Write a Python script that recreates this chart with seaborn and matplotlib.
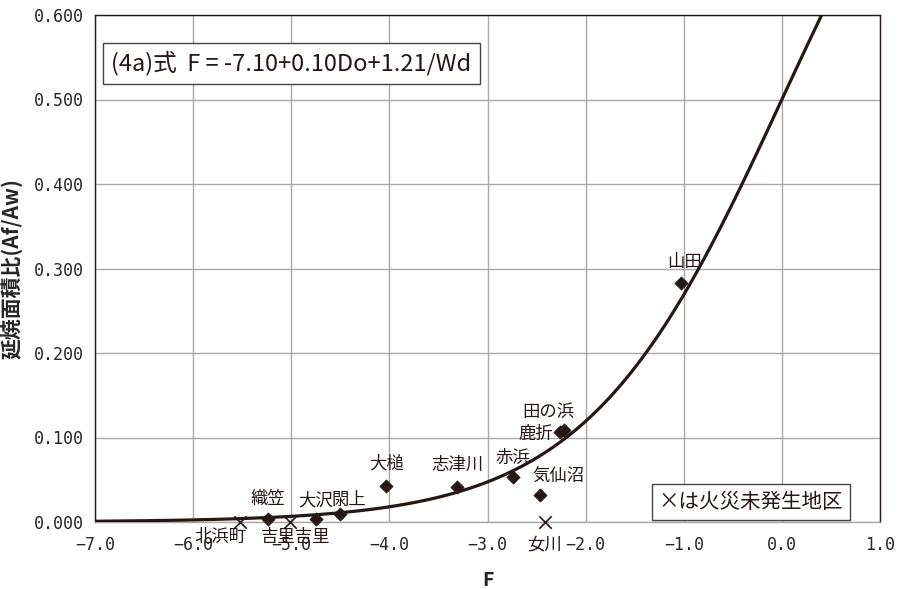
import numpy as np
import pandas as pd
import matplotlib
matplotlib.use("Agg")
import matplotlib.pyplot as plt
import seaborn as sns

# データ: 火災発生地区 (◆)
fire_names = ['山田', '田の浜', '鹿折', '赤浜', '気仙沼', '志津川', '大槌', '閖上', '大沢', '織笠']
fire_F = [-1.03, -2.22, -2.26, -2.74, -2.46, -3.31, -4.03, -4.50, -4.75, -5.24]
fire_ratio = [0.283, 0.109, 0.107, 0.053, 0.032, 0.041, 0.043, 0.0095, 0.003, 0.004]

# 火災未発生地区 (×)
nofire_names = ['北浜町', '吉里吉里', '女川']
nofire_F = [-5.52, -5.01, -2.41]
nofire_ratio = [0.0, 0.0, 0.0]

# ラベル位置 (points offset)
fire_offsets = [(3, 15), (-11, 13), (-5, -2), (0, 14), (13, 13), (0, 16), (0, 16), (6, 10), (0, 14), (0, 14)]
fire_ha = ['center', 'center', 'right', 'center', 'center', 'center', 'center', 'center', 'center', 'center']
nofire_offsets = [(-14, -11), (4, -11), (-1, -16)]

x_ticks = [-7.0, -6.0, -5.0, -4.0, -3.0, -2.0, -1.0, 0.0, 1.0]
y_ticks = [0.0, 0.1, 0.2, 0.3, 0.4, 0.5, 0.6]

# ロジスティック曲線 P = 1 / (1 + exp(-F))
curve_F = np.linspace(-7.0, 0.6, 400)
curve_P = 1.0 / (1.0 + np.exp(-curve_F))

sns.set_style("white")
plt.rcParams['font.family'] = ['Noto Sans CJK JP', 'DejaVu Sans']

dark = '#231815'
fig = plt.figure(figsize=(8.97, 5.89), dpi=100)
ax = fig.add_axes([95 / 897, 1 - 522 / 589, 785 / 897, 507 / 589])

ax.set_xlim(-7.0, 1.0)
ax.set_ylim(0.0, 0.6)
ax.set_xticks(x_ticks)
ax.set_yticks(y_ticks)
ax.set_xticklabels([f'{t:.1f}'.replace('-', '\u2212') for t in x_ticks], fontsize=12,
                   family='DejaVu Sans Mono')
ax.set_yticklabels([f'{t:.3f}' for t in y_ticks], fontsize=12, family='DejaVu Sans Mono')
ax.grid(True, color='#a8a8a8', linewidth=1)
ax.set_axisbelow(True)
ax.tick_params(axis='x', direction='out', length=4, color='#a8a8a8', pad=6)
ax.tick_params(axis='y', length=0, pad=8)
for s in ax.spines.values():
    s.set_color(dark)
    s.set_linewidth(1)
ax.spines['bottom'].set_color('#a8a8a8')

df_curve = pd.DataFrame({'F': curve_F, 'P': curve_P})
sns.lineplot(data=df_curve, x='F', y='P', ax=ax, color=dark, linewidth=2.3, zorder=3)

df_fire = pd.DataFrame({'F': fire_F, 'ratio': fire_ratio})
sns.scatterplot(data=df_fire, x='F', y='ratio', ax=ax, marker='D', s=45, color=dark,
                edgecolor=dark, zorder=4, clip_on=False)

df_nofire = pd.DataFrame({'F': nofire_F, 'ratio': nofire_ratio})
sns.scatterplot(data=df_nofire, x='F', y='ratio', ax=ax, marker='x', s=80, color=dark,
                linewidth=1.2, zorder=4, clip_on=False)

for name, fx, fy, off, ha in zip(fire_names, fire_F, fire_ratio, fire_offsets, fire_ha):
    ax.annotate(name, (fx, fy), xytext=off, textcoords='offset points', ha=ha, va='center',
                fontsize=12.5, color=dark, zorder=5)
for name, fx, fy, off in zip(nofire_names, nofire_F, nofire_ratio, nofire_offsets):
    ax.annotate(name, (fx, fy), xytext=off, textcoords='offset points', ha='center', va='center',
                fontsize=12.5, color=dark, zorder=5, annotation_clip=False)

ax.text(0.021, 0.905, '(4a)式  F = -7.10+0.10Do+1.21/Wd', transform=ax.transAxes, fontsize=17,
        color=dark, va='center', ha='left',
        bbox=dict(boxstyle='square,pad=0.35', facecolor='white', edgecolor='#444444', linewidth=1))
ax.text(0.718, 0.04, '×は火災未発生地区', transform=ax.transAxes, fontsize=14.8,
        color=dark, va='center', ha='left',
        bbox=dict(boxstyle='square,pad=0.33', facecolor='white', edgecolor='#444444', linewidth=1))

ax.set_xlabel('F', fontsize=14, fontweight='bold', labelpad=12)
ax.set_ylabel('延焼面積比(Af/Aw)', fontsize=15, fontweight='bold', labelpad=8)

fig.savefig('out.png', dpi=100)
